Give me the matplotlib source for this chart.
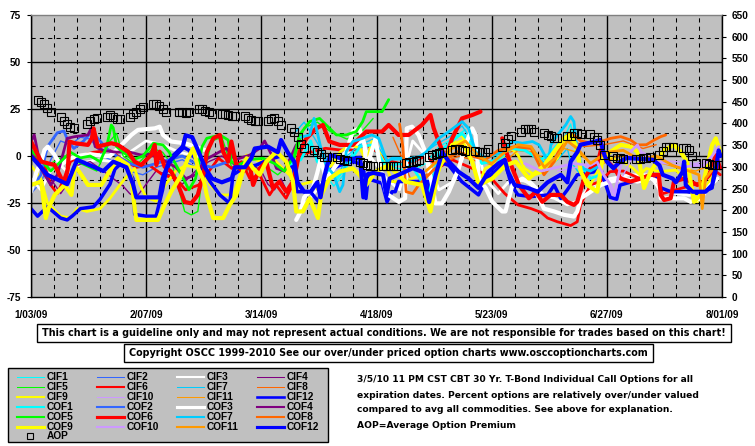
import numpy as np
import pandas as pd
import matplotlib
matplotlib.use("Agg")
import matplotlib.pyplot as plt
from matplotlib.lines import Line2D
from matplotlib.patches import Rectangle

# ---------------- data ----------------
x_tick_days = [0, 35, 70, 105, 140, 175, 210]
x_tick_labels = ["1/03/09", "2/07/09", "3/14/09", "4/18/09", "5/23/09", "6/27/09", "8/01/09"]
left_ticks = [75, 50, 25, 0, -25, -50, -75]
right_ticks = [650, 600, 550, 500, 450, 400, 350, 300, 250, 200, 150, 100, 50, 0]
start_date = "2009-01-03"
holidays = ["2009-01-19", "2009-02-16", "2009-04-10", "2009-05-25", "2009-07-03"]

aop_values = [454, 449, 445, 436, 426, 415, 406, 399, 392, 390, 399, 406, 410, 413,
              415, 420, 415, 410, 410, 415, 422, 426, 433, 438, 445, 445, 440, 433, 426,
              426, 426, 424, 426, 433, 433, 429, 426, 422, 422, 422, 420, 417, 417,
              417, 413, 408, 406, 406, 406, 410, 413, 406, 396, 390, 380, 369, 353, 343,
              339, 334, 330, 323, 323, 323, 318, 316, 313, 311, 309, 304, 302, 302,
              302, 302, 302, 302, 302, 309, 311, 311, 313, 316, 323, 327, 330, 332, 334,
              339, 341, 341, 339, 336, 336, 334, 334, 334, 341, 346, 355, 364, 371,
              380, 387, 387, 387, 380, 378, 373, 371, 366, 366, 371, 371, 378, 378, 376,
              376, 369, 362, 350, 327, 325, 320, 320, 318, 318, 318, 320, 320, 323,
              327, 336, 346, 346, 346, 343, 343, 339, 325, 309, 309, 307, 304, 304, 304]

cif1_d = [85, 88, 92, 95, 98, 102, 106, 110, 115, 120, 124, 128, 132, 135, 140, 145, 150, 155, 158, 161, 164, 166, 168]
cif1_v = [6, -6, -16, -10, 3, 6, 0, -6, -8, -4, 5, 9, 14, 0, -3, 5, 4, -4, 0, 6, 17, 0, -8]
cif2_d = [0, 3, 6, 9, 12, 15, 18, 22, 26, 30, 34, 38, 42, 46, 50]
cif2_v = [-20, -14, -2, 8, 6, 10, 9, 0, -4, -8, -10, -6, -4, -2, -6]
cif3_d = [0, 3, 6, 9, 12, 15, 20, 25, 30, 35, 40, 45, 50, 53, 66, 82, 86, 90, 95, 100, 103, 108, 112,
          116, 120, 124, 128, 132, 135, 138, 142, 146, 152, 156, 159, 163, 166, 170, 176, 182, 188,
          191, 196, 200, 204, 208]
cif3_v = [-12, -18, -8, -5, -10, -4, -2, -3, 2, 8, 6, 2, 0, -2, None, -28, -20, -10, -2, 8, 0, -12, -18,
          8, 0, -18, -14, 2, 8, -12, -20, -12, -14, -21, -22.5, -26, -24, -16, -12, -10, -10,
          -18, -20, -21, -19, -10]
cif4_d = [0, 3, 6, 9, 11, 14, 18, 22, 25, 28, 30, 32, 35, 38, 42, 46, 50, 54, 58, 62, 66, 70, 72, 74, 76, 78, 80]
cif4_v = [3, -5, -12, -20, -15, -5, -3, -8, -12, -16, -20, -22, -15, -8, -10, -15, -8, -3, 0, -5, -3, -8, -15, -18, -12, -20, -15]
cif5_d = [0, 5, 10, 15, 20, 24, 26, 28, 32, 37, 40, 43, 46.7, 48.7, 50.7, 51.7, 52.6, 55, 58, 61,
          65, 70, 75, 80, 83, 87, 91, 96, 100, 104]
cif5_v = [-2, -5, 0, -4, -8, 8, 12, 0, -5, 4, 2, -5, -29.5, -31.3, -29.5, -15.4, -8.3, 8, 10, -6,
          -8, -4, -10, -2, 15, 18, 13, 9, 12, 20]
cif6_d = [0, 4, 6, 8, 10, 12, 15, 19, 24, 28, 32, 36, 40, 44, 47, 51, 54, 57, 61, 64,
          66.5, 69.5, 72.5, 74.5, 77.5, 79.5, 81.5, 85.5, 89.5, 94, 98, 102, 105, 108, 112, 116, 120, 124, 128, 132,
          136, 140, 144, 148, 152, 155, 157, 160, 164, 166, 167, 170, 173, 176, 180, 185, 190, 192, 196, 200,
          204, 208, 209.5]
cif6_v = [0.5, -4.8, -15.4, -20, -12, -3, 0, 2, 3, -2, -6, -5, -10, -12, -18, -15.4, -8.3, -1.2, -6.6, -3,
          -12, -10, -20.7, -15.4, -22.5, -15.4, 0.5, 2.3, 4.1, 3.2, 3.2, 5.9, 2.3, -2, -4, -3, 0, -6, -2, -5,
          -8, -12, -20, -26, -28, -30, -33, -35, -37, -35, -26, -15.4, -13.6, -8.3, -8, -12, -12, -20, -18, -16,
          -14, -8, -10]
cif7_d = [80, 83, 86, 90, 93, 96, 100, 104, 108, 112, 118, 123, 127, 131, 134, 138, 143, 147, 152, 157, 160, 163, 164, 167]
cif7_v = [12, 18, 10, -2, -12, 0, 6, 9, -2, -2, 0, 6, 10, 16, 8, -4, 0, 5, 5, -6, -2, 4, -3, -10]
cif8_d = [110, 113, 116, 120, 125, 130, 136, 142, 148, 153, 157, 161, 164, 168, 174, 180, 186, 190]
cif8_v = [10, -2, -15, -10, -4, 0, -3, 1, 3, 2, -8, 5, 9, 5, 6, 8, 4, 6]
cif9_d = [0, 3, 5, 9, 12, 14, 17, 21, 24, 27, 29.5, 31.5, 33, 35, 38, 41, 44, 47, 51.5, 54.5,
          57.5, 61.5, 65.5, 69.5, 73.5, 77.5, 81.5, 85.5, 87.5, 89.5, 94, 97, 100, 102, 103.6, 105.7, 108.2, 109.7, 112.7, 115.8,
          118.8, 121.4, 122.9, 124.9, 127, 129, 131, 133, 135, 136, 138, 140, 144, 146, 148, 150, 153, 156, 160, 163,
          165, 167, 170, 173, 176, 180, 183, 185, 187, 191, 196, 200.5, 202.5, 205.5, 208.6]
cif9_v = [-5, -12, -25, -32, -33, -28, -29.5, -28, -22.5, -15.4, -10, -6.6, -15, -22, -24, -15, -8, -5, -6.6, -15.4,
          -20.7, -20.7, 0.5, -3, -1.2, -8.3, -15.4, -13.6, -19, -10, 2.3, 5.9, 4.1, -3, 7.7, 2.3, -6.6, -13.6, -13.6, -12,
          -10, -26, -13.6, -3, 2.3, 9.4, 11.2, 2.3, -8.3, -15.4, -6.6, -5, 0.5, 4.1, 0.5, -6.6, -10, -8.3, -1.2, 9.4,
          7.7, -8.3, -15.4, -5, -1.2, -3, -6.6, -10, -6.6, -8.3, -7.5, -15.4, -24.4, -15.4, -6.6]
cif10_d = [160, 166, 172, 175, 177, 180, 183, 186, 190, 196, 202, 206, 209]
cif10_v = [-8, -6, -6, -12, -24, -10, 0, 2, -2, -3, -4, -2, 3]
cif11_d = [122, 127, 132, 137, 142, 148, 153, 158, 162, 166, 172, 178, 184, 190, 196, 202, 208]
cif11_v = [-10, 0, 5, -3, -6, 3, 2, -4, 4, 2, -6, 0, 0, -3, -6, -8, -4]
cif12_d = [0, 2, 5, 7, 9, 11, 12.5, 15, 19, 21, 24, 25.5, 28, 31, 31.5, 35, 38, 40, 41, 43,
           46, 48, 51.4, 54.4, 57.4, 60.4, 61.4, 64.4, 68.5, 72, 76, 79.8, 80.8, 84.9, 87.4, 88.4, 90, 94, 98, 101,
           101.8, 102.6, 103.6, 106.7, 108.2, 109.7, 110.7, 111.7, 116.8, 120.8, 121.6, 122.3, 123.8, 127, 130.9, 136, 138.5, 142, 144, 146,
           148, 152, 157, 159, 161, 163, 166, 171, 172.6, 174, 176, 178, 179, 182, 186, 190, 191.5, 194.5, 199.4, 203,
           207, 208, 209.5]
cif12_v = [-28, -32, -27, -30, -33, -34, -32, -28, -27, -23, -15, -7, -3, -12, -31, -32, -32, -18, -9, 0,
           5, 3, -4.8, -13.6, -20.7, -25.2, -10, -6.6, -4.8, -2, 0, -6.6, -19, -19, -24.4, -15.4, -8.3, -4.8, -3, -4.8,
           -22.6, -9.2, -12.8, -14.5, -24.4, -19, -19, -13.6, -13.6, -13.6, -26, -15.4, -3, -5, -13.6, -20.7, -11.9, -6.6, -3, -15.4,
           -20.7, -21.6, -20.7, -15.5, -22.6, -18, -10, -8.5, -3, -12, -22, -23, -15.5, -14, -12, -10, -17, -19, -19, -20,
           -17, -3, -6]

cof1_d = [78, 82, 85, 87, 90, 93, 96, 100, 104, 108, 112, 116, 121, 124, 128, 131, 134, 137, 142, 146,
          150, 155, 158, 161, 163.5, 165, 167, 170, 173]
cof1_v = [-5, -2, 8, -3, -8, -12, -5, 5, 6, -6, -4, -6, -20, 2, 8, 12, 6, -4, -2, 4,
          3, -2, 2, 8, 12, 8, -4, -12, -10]
cof2_d = [0, 3, 5, 8, 10, 11, 13, 16, 18, 20, 23, 26, 30, 34, 38, 42, 46, 50, 55, 60]
cof2_v = [-18, -10, 5, 12.4, 13.3, 9, 4, 8, 12, 10, 4, 0, -4, -6, -4, -2, 0, -4, -6, -3]
cof3_d = [0, 1.7, 3.1, 4.1, 5.1, 7, 9, 11, 14, 18, 22, 24, 27, 30.5, 32.5, 37.6, 39.1, 40.1, 42.6, 46.7,
          50, 53, 66, 80.6, 81.8, 83, 85.7, 87, 88, 89.7, 92.8, 95.8, 97.8, 99.8, 101.4, 101.9, 102.9, 104.7, 106, 108,
          111.8, 113.7, 114.2, 115.8, 117.8, 119.8, 121.9, 122.9, 124.9, 127, 130, 132, 134.1, 135.1, 136.1, 138.2, 140.2, 143.2, 144.2, 146.3,
          149.3, 152.4, 155.9, 159, 162, 165, 166, 167.1, 170.1, 173.2, 176.2, 180.2, 184.3, 188.3, 190.8, 191.4, 194.4, 198.5, 200.5, 203.5,
          206.5, 208.6]
cof3_v = [-19, -8.3, -3, 3.2, 5, 1, -5, -2, 0, 1, 0, 0, 5, 11.2, 13.9, 14.7, 15.6, 11.2, 7.7, 6.8,
          5, 3, None, -34, -30, -22, -17, -9, -2, -12, -4.8, 2.3, 13, 14.7, 5.9, -6.6, -1.2, 9.4, -5, -20,
          -24.4, -22.5, 14.7, 15.6, 11.2, 2.3, -15.4, -25.2, -25.2, -19, -6.6, 5.9, 14.7, 11.2, -12, -17, -24.4, -29.5, -29.5, -15.4,
          -12, -15.4, -28, -29.5, -31.3, -32.2, -29.5, -22.5, -19, -15.4, -13.6, -12, -13.6, -12, -13.6, -22.5, -22.5, -22.5, -24.4, -22.5,
          -15.4, -12]
cof4_d = [0, 1, 3, 6, 8, 11, 13.3, 17.3, 18.3, 19.5, 22, 26, 29.5, 33.5, 36, 40, 44, 47, 50, 53,
          57.4, 59.4, 62, 66.5, 69.5, 71, 73, 74.6, 77, 80.6]
cof4_v = [7.7, 11.2, -6.6, -15.4, -10, 9.4, 10.3, 11.2, 14.7, 5, 3, 2, 2.3, 0.5, 1, -2, -6, -12, -10, -2,
          2.3, 4.1, -2, 0.5, 4.1, 8, 1, -6.6, -8, 5.9]
cof5_d = [0, 3, 6, 9, 12, 15, 18, 21, 23, 24.4, 25, 26, 28, 31, 34, 37.2, 40.1, 42, 45.7, 48,
          50, 52, 53.4, 57.4, 59.9, 60.9, 63, 66, 70.5, 74, 77, 80, 81.6, 84.7, 87.7, 89.7, 92.8, 95.8, 98.8, 100.8,
          101.9, 106.7, 108.7]
cof5_v = [3, -2, -8, -3, 2, -1, 0, -3, 5, 16.5, 15, 5, 2, -2, 0, 6.8, 5.9, 2, -10, -18,
          -12, 5, 9.4, 11.2, 8.5, -3, -5, -2, -1.2, -4, -8, 0, 11.2, 18.3, 20, 16.5, 11.2, 11.2, 13, 18.3,
          23.6, 23.6, 30]
cof6_d = [0, 3.1, 7.2, 10.2, 11.2, 11.7, 13.3, 17.3, 18.5, 19, 20.3, 24.4, 26.4, 29.5, 31.5, 33.5, 35.5, 36.5, 37.6, 38.1,
          39.1, 40.6, 42.6, 44.7, 46.7, 48.7, 50.7, 52.6, 53.4, 55.4, 57.4, 58.4, 59.9, 60.9, 62.4, 64.4, 66.5, 67.5, 69.5, 71.5,
          73.5, 75.5, 77.6, 79.6, 80.6, 81.6, 83.7, 86.7, 88.7, 90.7, 93.8, 97.8, 100.8, 101.9, 104.7, 106.7, 108.7, 111.7, 114.8, 118.8,
          121.4, 122.4, 123.9, 125.9, 128, 130, 131, 134.1, 136.6, 140, 143.2, 144.2, 146.3, 148.3, 151.3, 153.4, 155.4, 157.9, 161, 163,
          165, 166, 168.1, 170.1, 172.1, 173.2, 174.2, 177.3, 179.2, 182.2, 185.3, 188.3, 190.8, 191.4, 192.4, 194.4, 195.4, 198.5, 200.5, 202.5,
          204.5, 206.5, 208.1, 209.4]
cof6_v = [7.7, -3, -4.8, -15.4, -6.6, 7.7, 6.8, 5.9, 9.4, 14.7, 5, 6.8, 5.9, 2.3, -3, -4.8, -1.2, 0.5, 5.9, -4.8,
          2.3, -5.7, -8.3, -15.4, -24.4, -25.2, -20.7, -8, 2, 9.4, 11.2, 2.3, -3, 7.7, -4.8, -8.3, -4.8, -15.4, -6.6, -3,
          -17, -13.6, -19, -13.6, -6.6, 2.3, 9.4, 14.7, 16.5, 7.7, 5.9, 5.9, 11.2, 13, 13, 13, 16.5, 11.2, 11.2, 16.5,
          21.8, 14.7, 7.7, -1.2, 9.4, 16.5, 20, 21.8, 23.6, None, 9.4, 3.2, -6.6, -15.4, -22.5, -19, -24.4, -20.7, -20.7, -24.4,
          -26, -24.4, -12, -6.6, -5, 3.2, -1.2, -6.6, -12, -13.6, -12, -10, -10, -20.7, -23.4, -22.5, -13.6, -12, -13.6, -15.4,
          -13.6, -8.3, 0.5, -6.6]
cof7_d = [82, 84.7, 86, 86.7, 88, 89.7, 92, 93.8, 94.8, 95.8, 97.8, 100.8, 103.6, 105.7, 108.2, 109.7, 112.7, 116, 120, 123.9,
          127, 131, 133, 135.1, 138.2, 143.2, 146.3, 149.3, 152.4, 154.4, 157.2, 158, 160, 162.5, 164, 165, 166, 167.6, 170, 173]
cof7_v = [10, 11.2, 20, 14.7, 5, -5, -10, -19, -15.4, 2.3, 7.7, 9.4, 11.2, 9.4, -3, -1.2, -1.2, -3, 2, 9.4,
          13, 18.3, 14.7, 2.3, -1.2, 2.3, 7.7, 6.8, 7.7, 5.9, -3, 5.9, 11.2, 16.5, 21, 18.3, 2.3, -6.6, -8, -5]
cof8_d = [112, 113, 114, 116, 118, 122, 126, 130, 134, 138, 142, 147, 152, 155.9, 159, 162, 163.5, 165, 167, 170,
          173.2, 176.2, 179.2, 182.2, 184.3, 187, 189.4, 191.4, 192.9]
cof8_v = [17, 5, -19, -20, -15, -8, -2, 2, 0, -2, 3, 5, 4, -10, -3, 9.4, 12, 11.2, 8, 7,
          7.7, 9.4, 10.3, 8.5, 5.9, 6, 8.5, 10.3, 11.2]
cof9_d = [0, 3.1, 4.1, 4.5, 5.5, 7.2, 10.2, 12.3, 13.3, 15.3, 17.3, 21.4, 24.4, 26.4, 29.5, 30.5, 31.5, 32, 38.6, 40.6,
          42.6, 45.7, 47.7, 49.3, 50.8, 52.6, 53.4, 55.4, 58.4, 60.4, 62.4, 65.5, 67.5, 69.5, 71.5, 74.6, 77.6, 79.6, 80.6, 82.6,
          84.7, 87.2, 88.2, 90.7, 93.8, 97.8, 99.8, 101.9, 104.7, 108.6, 113.7, 118.8, 121.4, 123.9, 128, 131, 134.1, 136.1, 140.2, 144.2,
          147.3, 151.3, 155.9, 159, 162, 164, 166, 167.1, 169.1, 172.1, 173.7, 176.2, 179.2, 182.2, 184.3, 186.3, 188.3, 190.3, 192.4, 195.4,
          197.4, 199.4, 201.5, 203.5, 205.5, 207, 208.1, 209.4]
cof9_v = [-15.4, -13.6, -27.8, -33, -27, -20.7, -15.4, -20.7, -5, -10, -15.4, -15.4, -6.6, -1.2, -4.8, -12, -27.8, -34, -34, -26,
          -19, -10, -1.2, 4.1, -6.6, -13.6, -20.7, -33, -33, -26, -20.7, -1.2, -6.6, -10, -3, 2.3, -3, -13.6, -29.5, -29.5,
          -22.5, -33, -20.7, -12, -8.3, -6.6, -10, -15.4, -8.3, -5, -13.6, -15.4, -29.5, -6.6, 5.9, 7.7, -3, -15.4, -12, -5,
          -3, -12, -5, 2.3, 9.4, 11.2, 4.1, -8.3, -15.4, -19, -1.2, 2.3, 5.9, 5, 2.3, -17, -8.3, -3, 3.2, 5.9,
          2.3, -3, -24.4, -20.7, -5, 5.9, 9.4, 2.3]
cof10_d = [150, 155, 160, 165, 170, 172, 174, 176.2, 177.3, 179.2, 182.2, 184.3, 186, 190, 194, 198, 202, 204.5, 207, 209]
cof10_v = [-4, -8, -6, -4, -5, -3, -10, -15.4, -20.7, -5, 2.3, 5.9, 0, -3, -4, -6, -5, -5, 0, 5]
cof11_d = [120, 124, 128, 132, 136, 140, 144, 148, 152, 156, 160, 163, 166, 170, 175, 180, 185, 190, 195, 200, 203, 204, 205, 208]
cof11_v = [-8, -2, 4, 8, 0, -4, 2, 6, 5, -6, 0, 8, 4, -4, 2, 3, -2, 0, -5, -8, -10, -28, -12, -5]
cof12_d = [0, 5, 11, 14, 18, 22, 25, 29, 31, 32, 39, 40, 42, 46, 47, 49, 51, 53, 55, 58,
           61, 62, 65, 67, 68, 72, 75, 76, 78, 80, 81, 83, 85, 87, 88, 89, 90, 91, 93, 95,
           100, 101, 102, 104, 107, 108, 109, 113, 116, 119, 121, 123, 125, 127, 130, 133, 136, 139, 142, 144,
           145, 147, 151, 154, 157, 159, 161, 163, 164, 166, 167, 171, 173, 174, 175, 177, 179, 181, 185, 189,
           191, 192, 195, 196, 198, 198.5, 199, 201, 205, 207, 208, 209, 209.5]
cof12_v = [0, -10, -15, -2, -5, -8, -3, -6, -15, -22, -22, -12, -3, 4, 11, 10, 2, -6.5, -12, -14,
           -12, -6, -6, -1, 4, 5, 2, 8.5, 2, -3, -14, -19, -19, -14, -22, -12, -5, 0.5, -0.5, -2,
           -1, -22, -10, -9, -10, -21, -12, -9, -6.5, -8.5, -24.5, -10, 2, -3, -8.5, -12, -17, -8.5, -4, -2,
           -8.5, -15.5, -17, -19, -14, -12, -10, -14, -3, 2, 6, 7.5, 8.5, 2, -3, -6.5, -3, -1, -1.5, -2,
           -5, -10, -12, -14, -8.5, -3, -15.5, -19, -19, -15.5, -8.5, 3, 0]

series_names = ["CIF1", "CIF2", "CIF3", "CIF4", "CIF5", "CIF6", "CIF7", "CIF8", "CIF9", "CIF10", "CIF11", "CIF12",
                "COF1", "COF2", "COF3", "COF4", "COF5", "COF6", "COF7", "COF8", "COF9", "COF10", "COF11", "COF12"]
base_colors = ["#00FFFF", "#3366FF", "#FFFFFF", "#800080", "#00FF00", "#FF0000",
               "#00CCFF", "#FF6600", "#FFFF00", "#CC99FF", "#FF9900", "#0000FF"]
cif_widths = [1, 1, 2, 1, 1, 2, 1, 1, 2, 1, 1, 2.5]
cof_widths = [2, 2, 3, 2, 2, 3, 2, 2, 3, 2, 2, 3]

series_days = [cif1_d, cif2_d, cif3_d, cif4_d, cif5_d, cif6_d, cif7_d, cif8_d, cif9_d, cif10_d, cif11_d, cif12_d,
               cof1_d, cof2_d, cof3_d, cof4_d, cof5_d, cof6_d, cof7_d, cof8_d, cof9_d, cof10_d, cof11_d, cof12_d]
series_vals = [cif1_v, cif2_v, cif3_v, cif4_v, cif5_v, cif6_v, cif7_v, cif8_v, cif9_v, cif10_v, cif11_v, cif12_v,
               cof1_v, cof2_v, cof3_v, cof4_v, cof5_v, cof6_v, cof7_v, cof8_v, cof9_v, cof10_v, cof11_v, cof12_v]

# ---------------- figure ----------------
W, H = 755, 446
NARROW = ["Liberation Sans", "DejaVu Sans"]
WIDE = ["DejaVu Sans"]
plt.rcParams["font.family"] = NARROW
plt.rcParams["font.weight"] = "bold"
fig = plt.figure(figsize=(W / 100, H / 100), dpi=100)
fig.patch.set_facecolor("white")

def fx(px):
    return px / W

def fy(py):
    return 1 - py / H

ax_l, ax_r, ax_t, ax_b = 31, 722, 15, 297
ax = fig.add_axes([fx(ax_l), fy(ax_b), (ax_r - ax_l) / W, (ax_b - ax_t) / H])
ax.set_facecolor("#C0C0C0")
ax.set_xlim(0, 210)
ax.set_ylim(-75, 75)

# grid
for d in range(0, 211, 7):
    if d % 35 == 0:
        ax.axvline(d, color="black", lw=1.0, zorder=0.5)
    else:
        ax.axvline(d, color="black", lw=0.75, ls=(0, (4, 4)), zorder=0.5)
for v in np.arange(-62.5, 75, 12.5):
    if v % 25 == 0:
        ax.axhline(v, color="black", lw=1.0, zorder=0.5)
    else:
        ax.axhline(v, color="black", lw=0.75, ls=(0, (4, 4)), zorder=0.5)

# series
for i in range(24):
    col = base_colors[i % 12]
    lw = (cif_widths if i < 12 else cof_widths)[i % 12]
    vals = np.array([np.nan if v is None else v for v in series_vals[i]], dtype=float)
    ax.plot(series_days[i], vals, color=col, lw=lw, solid_joinstyle="round",
            solid_capstyle="round", zorder=2 + i * 0.01)

ax.set_xticks(x_tick_days)
ax.set_xticklabels(x_tick_labels, fontsize=7.2, fontweight="bold")
ax.set_yticks(left_ticks)
ax.set_yticklabels([str(t) for t in left_ticks], fontsize=7.2, fontweight="bold")
ax.tick_params(axis="x", length=0, pad=9)
ax.tick_params(axis="y", direction="out", length=3, width=0.8, pad=4)
for s in ["left", "right", "bottom"]:
    ax.spines[s].set_color("black")
    ax.spines[s].set_linewidth(1.0)
ax.spines["top"].set_color("#808080")
ax.spines["top"].set_linewidth(1.0)

# AOP on right axis
ax2 = ax.twinx()
ax2.set_ylim(0, 650)
trade_days = pd.bdate_range("2009-01-05", "2009-07-31")
trade_days = trade_days[~trade_days.isin(pd.to_datetime(holidays))]
aop_x = (trade_days - pd.Timestamp(start_date)).days
ax2.plot(aop_x, aop_values, ls="none", marker="s", ms=5.2, mfc="none", mec="black", mew=0.8, zorder=5)
ax2.set_yticks(right_ticks)
ax2.set_yticklabels([str(t) for t in right_ticks], fontsize=7.2, fontweight="bold")
ax2.tick_params(axis="y", direction="out", length=3, width=0.8, pad=4)
for s in ["left", "right", "bottom", "top"]:
    ax2.spines[s].set_visible(False)

# disclaimer boxes
def box(x0, x1, y0, y1, text):
    fig.patches.append(Rectangle((fx(x0), fy(y1)), (x1 - x0) / W, (y1 - y0) / H, transform=fig.transFigure,
                                 facecolor="white", edgecolor="black", lw=1.0))
    fig.text(fx((x0 + x1) / 2), fy((y0 + y1) / 2), text, ha="center", va="center",
             fontsize=6.9, fontweight="bold", family=WIDE)

box(37, 731, 324, 342, "This chart is a guideline only and may not represent actual conditions. "
    "We are not responsible for trades based on this chart!")
box(124, 653, 344, 362, "Copyright OSCC 1999-2010 See our over/under priced option charts www.osccoptioncharts.com")

# legend box
fig.patches.append(Rectangle((fx(8), fy(442)), 320 / W, 74 / H, transform=fig.transFigure,
                             facecolor="#C0C0C0", edgecolor="black", lw=1.0))
for i, name in enumerate(series_names):
    row, colm = i // 4, i % 4
    x0 = 17 + colm * 80
    yy = 377 + row * 9.9
    lw = (cif_widths if i < 12 else cof_widths)[i % 12] * 0.75
    fig.lines.append(Line2D([fx(x0), fx(x0 + 27)], [fy(yy), fy(yy)], transform=fig.transFigure,
                            color=base_colors[i % 12], lw=lw))
    fig.text(fx(x0 + 30), fy(yy), name, ha="left", va="center", fontsize=7.3, fontweight="bold")
yy = 377 + 6 * 9.9
fig.lines.append(Line2D([fx(30)], [fy(yy)], transform=fig.transFigure, ls="none", marker="s",
                        ms=4.5, mfc="none", mec="black", mew=0.8))
fig.text(fx(47), fy(yy), "AOP", ha="left", va="center", fontsize=7.3, fontweight="bold")

info_lines = ["3/5/10 11 PM CST CBT 30 Yr. T-Bond Individual Call Options for all",
              "expiration dates. Percent options are relatively over/under valued",
              "compared to avg all commodities. See above for explanation.",
              "AOP=Average Option Premium"]
for k, line in enumerate(info_lines):
    fig.text(fx(357), fy(380 + 15 * k), line, ha="left", va="center", fontsize=6.6,
             fontweight="bold", family=WIDE)

fig.savefig("out.png", dpi=100, facecolor="white")
